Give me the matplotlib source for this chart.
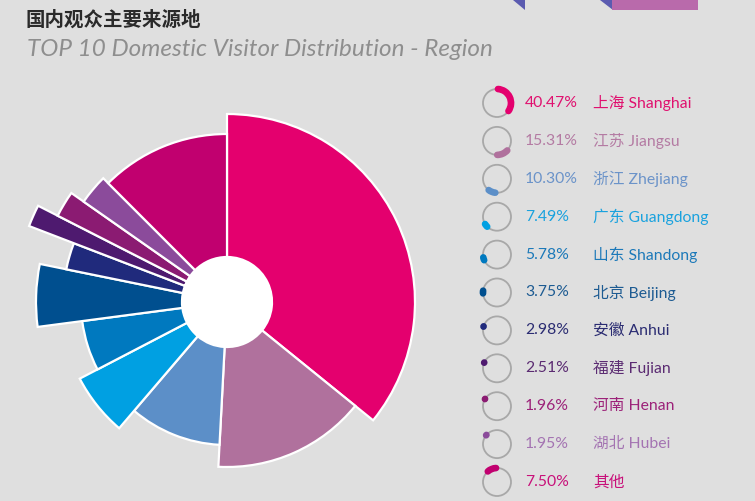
import numpy as np
import matplotlib
matplotlib.use("Agg")
import matplotlib.pyplot as plt
from matplotlib.patches import Circle, Arc, Polygon

# --- data ---
regions = ['上海 Shanghai', '江苏 Jiangsu', '浙江 Zhejiang', '广东 Guangdong',
           '山东 Shandong', '北京 Beijing', '安徽 Anhui', '福建 Fujian',
           '河南 Henan', '湖北 Hubei', '其他']
share = [40.47, 15.31, 10.30, 7.49, 5.78, 3.75, 2.98, 2.51, 1.96, 1.95, 7.50]
# angular width of each slice as drawn in the original (degrees)
drawn_sweep = [129, 54, 37.5, 22, 20, 19, 9.5, 6, 8, 10, 45]
# outer length of each slice as drawn in the original (pixels)
drawn_reach = [188, 165, 143, 166, 146, 191, 164, 212, 190, 175, 168]

slice_colors = ['#e4006e', '#b0719d', '#5c8fc8', '#00a0e2', '#0079bf',
                '#004f8f', '#202a7c', '#4e1a6f', '#8b1b72', '#8b4b9b', '#c1006f']
text_colors = ['#e0116f', '#b47ba3', '#6b93c9', '#1aa2de', '#1c79b9',
               '#1d5b92', '#2b2c72', '#5b2b72', '#9c2279', '#a474b2', '#c8117a']

W, H = 755, 501
BG = '#dfdfdf'
HOLE = 45


def px_rect(x0, y0, w, h):
    return [x0 / W, 1 - (y0 + h) / H, w / W, h / H]


fig = plt.figure(figsize=(W / 100, H / 100), dpi=100, facecolor=BG)

# decorative corner shapes
deco = fig.add_axes([0, 0, 1, 1])
deco.set_xlim(0, W)
deco.set_ylim(H, 0)
deco.axis('off')
deco.add_patch(Polygon([(513, 0), (525, 0), (525, 10)], closed=True, color='#5b5bb0', lw=0))
deco.add_patch(Polygon([(600, 0), (613, 0), (613, 10)], closed=True, color='#5b5bb0', lw=0))
deco.add_patch(Polygon([(612, 0), (698, 0), (698, 10), (612, 10)], closed=True,
                       color='#b96aab', lw=0))

# titles
fig.text(25 / W, 1 - 20 / H, '国内观众主要来源地', family='Noto Sans CJK SC',
         weight='bold', fontsize=14, color='#2a2a2a', va='center', ha='left')
fig.text(27 / W, 1 - 49 / H, 'TOP 10 Domestic Visitor Distribution - Region',
         family='Lato', style='italic', fontsize=17.5,
         color='#8e8e8e', va='center', ha='left')

# rose pie
R = 220
ax = fig.add_axes(px_rect(227 - R, 302 - R, 2 * R, 2 * R), projection='polar')
ax.set_theta_zero_location('N')
ax.set_theta_direction(-1)
ax.set_ylim(0, R)
starts = np.concatenate([[0], np.cumsum(drawn_sweep)[:-1]])
ax.bar(np.radians(starts), np.array(drawn_reach) - HOLE, width=np.radians(drawn_sweep),
       bottom=HOLE, align='edge', color=slice_colors, edgecolor='white', linewidth=1.6)
ax.bar(0, HOLE, width=2 * np.pi, bottom=0, color='white', linewidth=0)
ax.set_axis_off()

# legend list
lg = fig.add_axes(px_rect(470, 80, 285, 421))
lg.set_xlim(470, 755)
lg.set_ylim(501, 80)
lg.axis('off')
cx = 497
for i, name in enumerate(regions):
    cy = 103 + 37.9 * i
    lg.add_patch(Circle((cx, cy), 14, fill=False, ec='#a8a8a8', lw=1.3))
    a0, a1 = starts[i], starts[i] + drawn_sweep[i]
    # shrink a little so the round caps stay near the slice's span
    pad = min(4, (a1 - a0) / 2 - 0.5)
    lg.add_patch(Arc((cx, cy), 28, 28, theta1=a0 - 90 + pad, theta2=a1 - 90 - pad,
                     color=slice_colors[i], lw=4.8, capstyle='round'))
    lg.text(525, cy, f'{share[i]:.2f}%', family=['Lato', 'Noto Sans CJK SC'],
            fontsize=11.3, color=text_colors[i], va='center', ha='left')
    lg.text(593, cy, name, family=['Lato', 'Noto Sans CJK SC'],
            fontsize=11.3, color=text_colors[i], va='center', ha='left')

fig.savefig('out.png', dpi=100, facecolor=BG)
